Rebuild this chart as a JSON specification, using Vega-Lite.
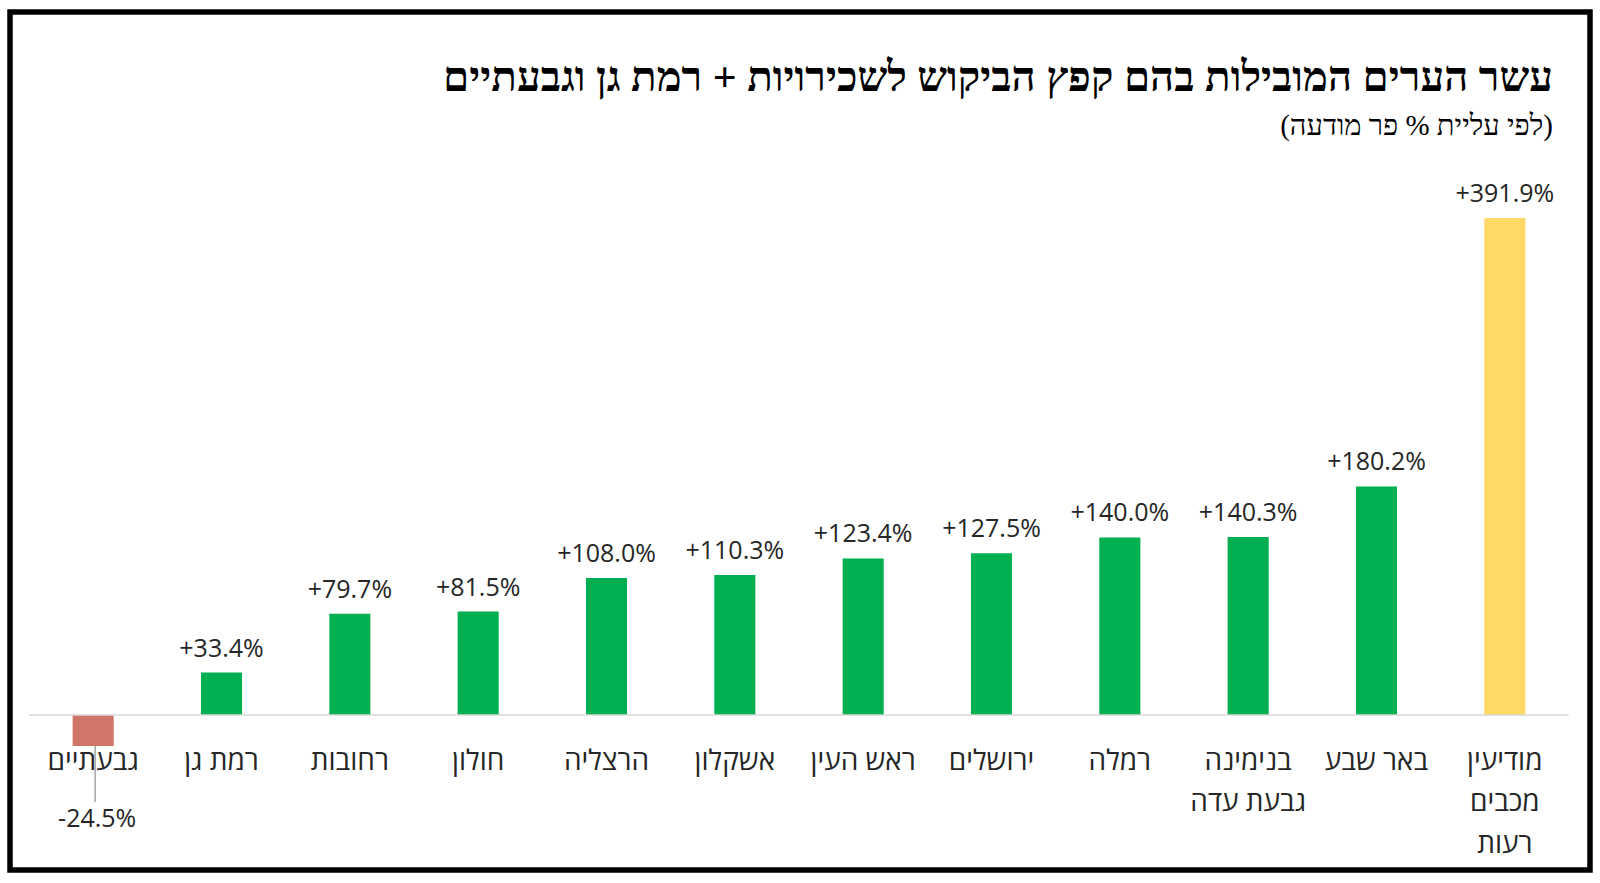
{
  "$schema": "https://vega.github.io/schema/vega-lite/v6.json",
  "width": 1580,
  "height": 858,
  "autosize": {"type": "none"},
  "padding": {"left": 10, "top": 12, "right": 10, "bottom": 13},
  "background": "white",
  "config": {
    "view": {"stroke": "black", "strokeWidth": 5.5, "fill": "white"},
    "font": "Open Sans"
  },
  "title": {
    "text": "עשר הערים המובילות בהם קפץ הביקוש לשכירויות + רמת גן וגבעתיים",
    "subtitle": "(לפי עליית % פר מודעה)",
    "anchor": "end",
    "frame": "group",
    "orient": "top",
    "offset": -130,
    "dx": -37,
    "font": "Liberation Sans Narrow",
    "fontSize": 42,
    "fontWeight": "bold",
    "color": "black",
    "subtitleFont": "Liberation Sans Narrow",
    "subtitleFontSize": 29,
    "subtitleColor": "black",
    "subtitlePadding": 12
  },
  "data": {
    "values": [
      {"city": "גבעתיים", "value": -24.5, "label": "-24.5%", "group": "neg"},
      {"city": "רמת גן", "value": 33.4, "label": "+33.4%", "group": "pos"},
      {"city": "רחובות", "value": 79.7, "label": "+79.7%", "group": "pos"},
      {"city": "חולון", "value": 81.5, "label": "+81.5%", "group": "pos"},
      {"city": "הרצליה", "value": 108.0, "label": "+108.0%", "group": "pos"},
      {"city": "אשקלון", "value": 110.3, "label": "+110.3%", "group": "pos"},
      {"city": "ראש העין", "value": 123.4, "label": "+123.4%", "group": "pos"},
      {"city": "ירושלים", "value": 127.5, "label": "+127.5%", "group": "pos"},
      {"city": "רמלה", "value": 140.0, "label": "+140.0%", "group": "pos"},
      {"city": "בנימינה|גבעת עדה", "value": 140.3, "label": "+140.3%", "group": "pos"},
      {"city": "באר שבע", "value": 180.2, "label": "+180.2%", "group": "pos"},
      {"city": "מודיעין|מכבים|רעות", "value": 391.9, "label": "+391.9%", "group": "top"}
    ]
  },
  "layer": [
    {
      "mark": {"type": "bar"},
      "encoding": {
        "x": {
          "field": "city", "type": "nominal", "sort": null,
          "scale": {"range": [19, 1559], "paddingInner": 0.68, "paddingOuter": 0.34},
          "axis": {
            "orient": "bottom",
            "title": null,
            "domain": false,
            "ticks": false,
            "grid": false,
            "labelAngle": 0,
            "labelFont": "Open Sans",
            "labelFontSize": 28,
            "labelColor": "#262626",
            "labelBaseline": "top",
            "labelLineHeight": 41.5,
            "labelPadding": 1,
            "labelLimit": 400,
            "labelOverlap": false,
            "offset": -124,
            "labelExpr": "split(datum.label, '|')"
          }
        },
        "y": {
          "field": "value", "type": "quantitative",
          "scale": {"domain": [-24.5, 391.9], "range": [734, 206], "nice": false, "zero": false},
          "axis": null
        },
        "color": {
          "field": "group", "type": "nominal",
          "scale": {"domain": ["neg", "pos", "top"], "range": ["#CF7668", "#00B050", "#FFD966"]},
          "legend": null
        }
      }
    },
    {
      "data": {"values": [{"v": 0}]},
      "mark": {"type": "rule", "color": "#D9D9D9", "strokeWidth": 1.5, "xOffset": 4, "x2Offset": 64},
      "encoding": {
        "x": {"datum": "גבעתיים", "type": "nominal", "bandPosition": -1.16},
        "x2": {"datum": "מודיעין|מכבים|רעות"},
        "y": {"field": "v", "type": "quantitative"}
      }
    },
    {
      "transform": [{"filter": "datum.value >= 0"}],
      "mark": {"type": "text", "dy": -16, "baseline": "alphabetic", "fontSize": 25, "color": "#262626", "font": "Open Sans"},
      "encoding": {
        "x": {"field": "city", "type": "nominal", "sort": null},
        "y": {"field": "value", "type": "quantitative"},
        "text": {"field": "label"}
      }
    },
    {
      "transform": [{"filter": "datum.value < 0"}],
      "mark": {"type": "rule", "color": "#A6A6A6", "strokeWidth": 1.5, "y2Offset": 56, "xOffset": 2},
      "encoding": {
        "x": {"field": "city", "type": "nominal", "sort": null},
        "y": {"field": "value", "type": "quantitative"},
        "y2": {"field": "value"}
      }
    },
    {
      "transform": [{"filter": "datum.value < 0"}],
      "mark": {"type": "text", "dy": 81, "dx": 4, "baseline": "alphabetic", "fontSize": 25, "color": "#262626", "font": "Open Sans"},
      "encoding": {
        "x": {"field": "city", "type": "nominal", "sort": null},
        "y": {"field": "value", "type": "quantitative"},
        "text": {"field": "label"}
      }
    }
  ]
}
